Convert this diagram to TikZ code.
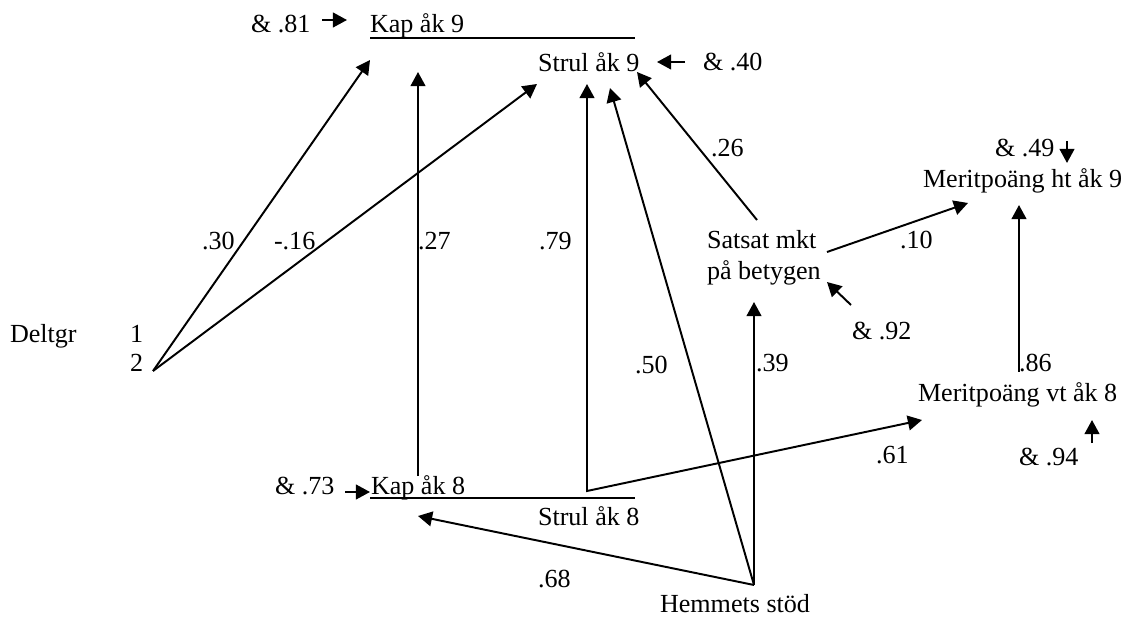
\documentclass[tikz,border=0pt]{standalone}
\usepackage{fontspec}
\setmainfont{Liberation Serif}
\usetikzlibrary{arrows.meta}
\begin{document}
\begin{tikzpicture}[x=0.46pt,y=-0.46pt,
  every node/.style={inner sep=0pt,outer sep=0pt,anchor=base west,font=\fontsize{12}{14}\selectfont},
  tip/.tip={Triangle[length=6.5pt,width=6.8pt]},
  conn/.style={line width=0.9pt,-tip},
  uline/.style={line width=1.1pt}]
\useasboundingbox (0,0) rectangle (1128,618);
% variable labels
\node (kap9) at (370,33) {Kap åk 9};
\node (e81) at (251,33) {\& .81};
\node (strul9) at (538,72) {Strul åk 9};
\node (e40) at (703,71) {\& .40};
\node (kap8) at (371,494) {Kap åk 8};
\node (e73) at (275,494) {\& .73};
\node (strul8) at (538,525) {Strul åk 8};
\node (hem) at (660,612) {Hemmets stöd};
\node (sat1) at (707,249) {Satsat mkt};
\node (sat2) at (707,280) {på betygen};
\node (e92) at (852,340) {\& .92};
\node (mvt) at (918,402) {Meritpoäng vt åk 8};
\node (e94) at (1019,465) {\& .94};
\node (mht) at (923,188) {Meritpoäng ht åk 9};
\node (e49) at (995,157) {\& .49};
\node (deltgr) at (10,342) {Deltgr};
\node (g1) at (130,342) {1};
\node (g2) at (130,372) {2};
% coefficient labels
\node (l30) at (202,250) {.30};
\node (l16) at (274,250) {-.16};
\node (l27) at (418,250) {.27};
\node (l79) at (539,250) {.79};
\node (l50) at (635,373) {.50};
\node (l39) at (756,372) {.39};
\node (l26) at (711,157) {.26};
\node (l10) at (900,249) {.10};
\node (l86) at (1019,372) {.86};
\node (l61) at (876,463) {.61};
\node (l68) at (538,587) {.68};
% connector points
\coordinate (dv) at (153,371);
\coordinate (k9in) at (370,60);
\coordinate (s9inA) at (537,84);
\coordinate (k9up) at (418,72);
\coordinate (k8top) at (418,476);
\coordinate (s9inB) at (587,84);
\coordinate (s8c) at (587,491);
\coordinate (mvtin) at (922,420);
\coordinate (hv) at (754,585);
\coordinate (k8in) at (418,516);
\coordinate (s9inC) at (610,88);
\coordinate (satin) at (754,302);
\coordinate (satoutA) at (757,220);
\coordinate (s9inD) at (637,72);
\coordinate (satoutB) at (827,252);
\coordinate (mhtinA) at (968,203);
\coordinate (mvtout) at (1019,372);
\coordinate (mhtinB) at (1019,205);
\coordinate (a92s) at (851,305);
\coordinate (a92e) at (827,282);
\coordinate (a94s) at (1092,443);
\coordinate (a94e) at (1092,420);
\coordinate (a49s) at (1067,141);
\coordinate (a49e) at (1067,163);
\coordinate (a81s) at (322,20);
\coordinate (a81e) at (347,20);
\coordinate (a40s) at (685,62);
\coordinate (a40e) at (657,62);
\coordinate (a73s) at (345,492);
\coordinate (a73e) at (370,492);
\coordinate (u9a) at (370,38);
\coordinate (u9b) at (635,38);
\coordinate (u8a) at (370,498);
\coordinate (u8b) at (635,498);
% underlines
\draw[uline] (u9a) -- (u9b);
\draw[uline] (u8a) -- (u8b);
% connectors
\draw[conn] (dv) -- (k9in);
\draw[conn] (dv) -- (s9inA);
\draw[conn] (k8top) -- (k9up);
\draw[line width=0.9pt,tip-tip] (mvtin) -- (s8c) -- (s9inB);
\draw[conn] (hv) -- (k8in);
\draw[conn] (hv) -- (s9inC);
\draw[conn] (hv) -- (satin);
\draw[conn] (satoutA) -- (s9inD);
\draw[conn] (satoutB) -- (mhtinA);
\draw[conn] (mvtout) -- (mhtinB);
% residual arrows
\draw[conn] (a92s) -- (a92e);
\draw[conn] (a94s) -- (a94e);
\draw[conn] (a49s) -- (a49e);
\draw[conn] (a81s) -- (a81e);
\draw[conn] (a40s) -- (a40e);
\draw[conn] (a73s) -- (a73e);
\end{tikzpicture}
\end{document}
